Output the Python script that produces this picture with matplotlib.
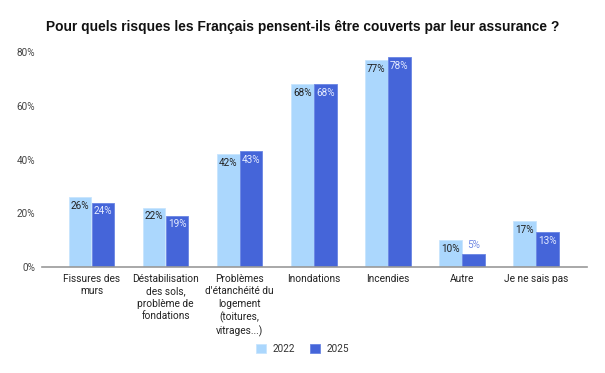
import matplotlib
matplotlib.use("Agg")
import matplotlib.pyplot as plt
import numpy as np
from matplotlib.ticker import PercentFormatter

categories = [
    "Fissures des\nmurs",
    "Déstabilisation\ndes sols,\nproblème de\nfondations",
    "Problèmes\nd'étanchéité du\nlogement\n(toitures,\nvitrages...)",
    "Inondations",
    "Incendies",
    "Autre",
    "Je ne sais pas",
]
vals_2022 = [26, 22, 42, 68, 77, 10, 17]
vals_2025 = [24, 19, 43, 68, 78, 5, 13]
years = ["2022", "2025"]

c22 = "#abd7fd"
c25 = "#4565d9"

plt.rcParams["font.family"] = ["Roboto", "DejaVu Sans"]

fig = plt.figure(figsize=(6.05, 3.73), dpi=100)
ax = fig.add_axes([42 / 605, 1 - 267 / 373, 545 / 605, 215 / 373])

x = np.arange(len(categories))
w = 0.305
b1 = ax.bar(x - 0.155, vals_2022, w, color=c22, edgecolor="#c8e5fe", linewidth=0.6, label=years[0])
b2 = ax.bar(x + 0.155, vals_2025, w, color=c25, edgecolor="#6a85e3", linewidth=0.6, label=years[1])

for rect, v in zip(b1, vals_2022):
    ax.text(rect.get_x() + rect.get_width() / 2, v - 1.3, f"{v}%", ha="center", va="top",
            fontsize=7.2, color="#222222")
for rect, v in zip(b2, vals_2025):
    if v >= 8:
        ax.text(rect.get_x() + rect.get_width() / 2, v - 1.3, f"{v}%", ha="center", va="top",
                fontsize=7.2, color="#e6ecff")
    else:
        ax.text(rect.get_x() + rect.get_width() / 2, v + 1.5, f"{v}%", ha="center", va="bottom",
                fontsize=7.2, color="#6f87e3")

ax.set_xlim(-0.67, len(categories) - 1 + 0.69)
ax.set_ylim(0, 80)
ax.set_yticks([0, 20, 40, 60, 80])
ax.yaxis.set_major_formatter(PercentFormatter(decimals=0))
ax.set_xticks(x)
ax.set_xticklabels(categories, fontsize=7.3, color="#222222", linespacing=1.3)
ax.tick_params(axis="y", length=0, pad=5, labelsize=7.2, labelcolor="#444444")
ax.tick_params(axis="x", length=0, pad=5)
for s in ["top", "right", "left"]:
    ax.spines[s].set_visible(False)
ax.spines["bottom"].set_color("#999999")
ax.spines["bottom"].set_linewidth(1.2)

fig.text(0.5, 1 - 27 / 373, "Pour quels risques les Français pensent-ils être couverts par leur assurance ?",
         ha="center", va="center", fontsize=9.9, fontweight="bold", family="Liberation Sans",
         color="#111111")

fig.legend(loc="center", bbox_to_anchor=(0.5, 1 - 349 / 373), ncol=2, frameon=False,
           fontsize=7.2, handlelength=1.0, handleheight=1.0, handletextpad=0.7, columnspacing=1.5,
           labelcolor="#333333")

fig.savefig("out.png", dpi=100)
